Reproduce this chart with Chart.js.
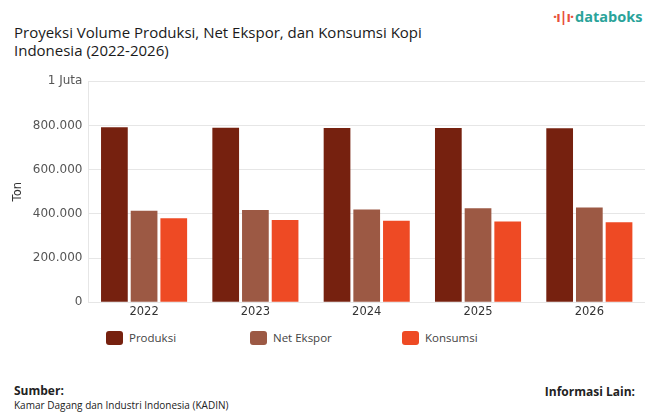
<!DOCTYPE html>
<html>
<head>
<meta charset="utf-8">
<script src="https://cdn.jsdelivr.net/npm/chart.js@4/dist/chart.umd.min.js"></script>
<style>
  html, body { margin: 0; padding: 0; background: #fff; }
  body { width: 645px; height: 412px; position: relative; overflow: hidden; font-family: "Open Sans", "Noto Sans", sans-serif; }
  .title { position: absolute; left: 14px; top: 24px; font-size: 15px; line-height: 17.5px; color: #1a1a1a; font-weight: 500; }
  .logo { position: absolute; left: 553px; top: 7px; font-family: "Open Sans", sans-serif; font-weight: 700; font-size: 14.5px; color: #2aa39a; }
  .logo .ic { color: #e8503a; margin-right: 2px; letter-spacing: -1px; }
  .chart-box { position: absolute; left: 0; top: 68px; width: 645px; height: 256px; }
  .legend { position: absolute; top: 330px; left: 0; width: 645px; height: 18px; }
  .legend .item { position: absolute; display: flex; align-items: center; font-size: 11.5px; color: #444; }
  .legend .box { width: 17px; height: 14px; border-radius: 3px; margin-right: 6px; }
  .src { position: absolute; left: 14px; top: 384px; font-size: 10px; line-height: 13.5px; color: #222; }
  .src b { font-size: 12px; }
  .src b, .info { font-weight: 700; }
  .info { position: absolute; right: 10px; top: 383px; font-size: 12px; color: #222; }
</style>
</head>
<body>
<div class="logo"><span class="ic">·ı|ı·</span>databoks</div>
<div class="title">Proyeksi Volume Produksi, Net Ekspor, dan Konsumsi Kopi<br>Indonesia (2022-2026)</div>
<div class="chart-box"><canvas id="chart"></canvas></div>
<div class="legend" id="legend"></div>
<div class="src"><b>Sumber:</b><br>Kamar Dagang dan Industri Indonesia (KADIN)</div>
<div class="info">Informasi Lain:</div>

<script>
// data (ton)
const years = ["2022", "2023", "2024", "2025", "2026"];
const produksi = [792000, 789000, 788000, 788000, 787000];
const net_ekspor = [414000, 417000, 420000, 425000, 428000];
const konsumsi = [380000, 372000, 369000, 365000, 362000];
const series_names = ["Produksi", "Net Ekspor", "Konsumsi"];
const series_colors = ["#76210f", "#9c5944", "#ee4a24"];

const ctx = document.getElementById("chart").getContext("2d");

function formatTick(v) {
	if (v === 0) return "0";
	if (v === 1000000) return "1 Juta";
	return v.toString().replace(/\B(?=(\d{3})+(?!\d))/g, ".");
}

const my_chart = new Chart(ctx, {
	type: "bar",
	data: {
		labels: years,
		datasets: [produksi, net_ekspor, konsumsi].map((d, i) => ({
			label: series_names[i],
			data: d,
			backgroundColor: series_colors[i],
			categoryPercentage: 0.8,
			barPercentage: 0.9
		}))
	},
	options: {
		responsive: true,
		maintainAspectRatio: false,
		animation: false,
		layout: { padding: { top: 5, right: 0, bottom: 2, left: 0 } },
		plugins: {
			legend: { display: false },
			tooltip: { enabled: false }
		},
		scales: {
			x: {
				grid: { display: false, tickLength: 0 },
				border: { display: false },
				ticks: { color: "#333", font: { family: "DejaVu Sans", size: 11.5 }, padding: 3 }
			},
			y: {
				min: 0,
				max: 1000000,
				ticks: {
					stepSize: 200000,
					color: "#555",
					padding: 6,
					font: { family: "DejaVu Sans", size: 12 },
					callback: formatTick
				},
				grid: { color: "#e6e6e6", tickLength: 0 },
				border: { display: true, color: "#e6e6e6" },
				title: {
					display: true,
					text: "Ton",
					color: "#333",
					font: { family: "DejaVu Sans", size: 11.5 },
					padding: { top: 11, bottom: 2 }
				}
			}
		}
	}
});

// html legend built from datasets
const legend_left = [106, 250, 402];
const legend_el = document.getElementById("legend");
my_chart.data.datasets.forEach((ds, i) => {
	const item = document.createElement("div");
	item.className = "item";
	item.style.left = legend_left[i] + "px";
	item.innerHTML = '<span class="box" style="background:' + ds.backgroundColor + '"></span>' + ds.label;
	legend_el.appendChild(item);
});
</script>
</body>
</html>
